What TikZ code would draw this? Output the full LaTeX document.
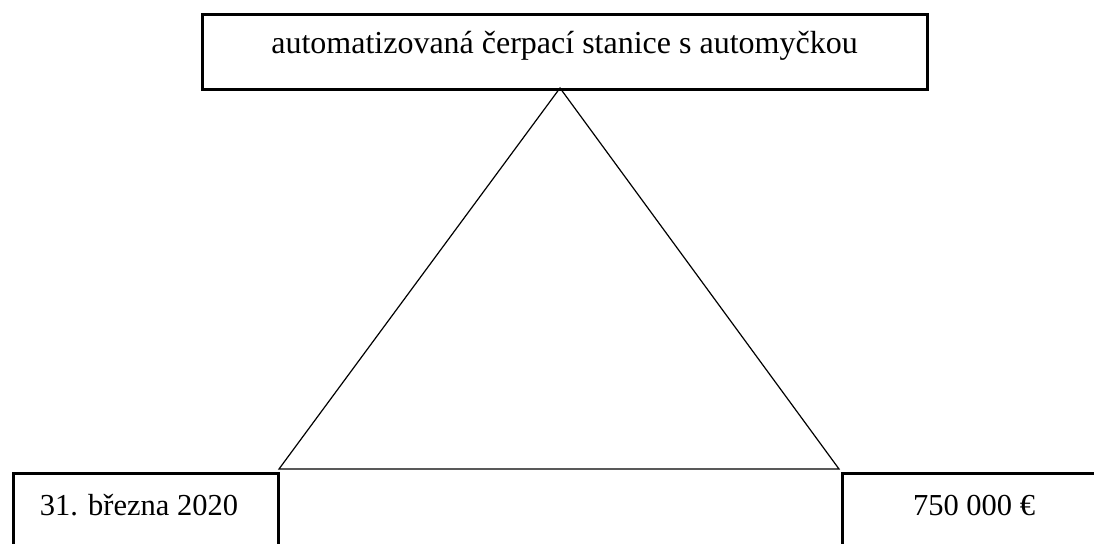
\documentclass[tikz,border=0pt]{standalone}
\usepackage{fontspec}
\setmainfont{Liberation Serif}
\begin{document}
\begin{tikzpicture}[x=1pt,y=-1pt,
  labelbox/.style={draw=black,line width=2.6pt,inner sep=0pt,anchor=north west},
  caption/.style={anchor=base,inner sep=0pt},
  edge/.style={draw=black,line width=1.2pt}]
\useasboundingbox (0,0) rectangle (1094,543);
\clip (0,0) rectangle (1094,543);
% subject of the contract
\node[labelbox,minimum width=725pt,minimum height=75pt] (subject) at (201,13) {};
\node[caption,font=\fontsize{32}{38}\selectfont] (subjecttext) at (564.5,53)
  {automatizovaná čerpací stanice s automyčkou};
% date and price boxes, running off the lower edge
\node[labelbox,minimum width=265pt,minimum height=100pt] (date) at (12,472) {};
\node[labelbox,minimum width=270pt,minimum height=100pt] (price) at (841,472) {};
\node[caption,font=\fontsize{30.5}{36}\selectfont] (datetext) at (139,515) {31. března 2020};
\node[caption,font=\fontsize{30.5}{36}\selectfont] (pricetext) at (974,515) {750 000 €};
% triangle joining the three boxes
\coordinate (apex) at (560,88);
\coordinate (baseL) at (279,469);
\coordinate (baseR) at (839,469);
\draw[edge] (apex) -- (baseL) -- (baseR) -- cycle;
\end{tikzpicture}
\end{document}
